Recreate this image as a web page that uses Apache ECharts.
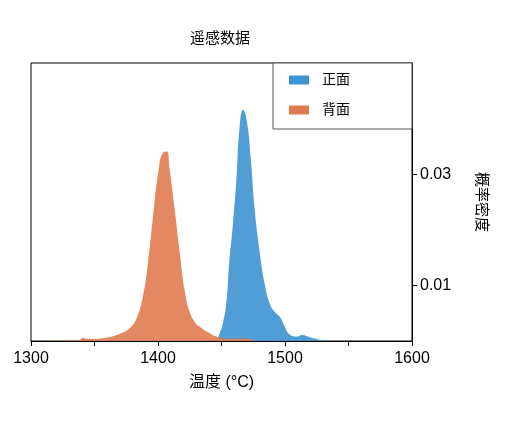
<!DOCTYPE html>
<html>
<head>
<meta charset="utf-8">
<script src="https://cdn.jsdelivr.net/npm/echarts@6/dist/echarts.min.js"></script>
<style>html,body{margin:0;padding:0;background:#fff}#chart{width:512px;height:422px}</style>
</head>
<body>
<div id="chart"></div>
<script>
// 温度 (°C) / 概率密度
const frontTemp = [1446, 1448, 1451, 1454, 1456, 1459, 1462, 1464, 1467, 1470, 1473, 1476, 1480, 1484, 1488, 1492, 1496, 1500, 1503, 1509, 1514, 1518, 1524, 1532]
const frontDens = [0, 0.001, 0.0031, 0.0073, 0.0139, 0.021, 0.030, 0.0378, 0.0416, 0.0395, 0.033, 0.024, 0.0162, 0.0103, 0.0067, 0.0052, 0.0043, 0.0025, 0.0013, 0.0008, 0.0011, 0.0008, 0.0004, 0]
const backTemp = [1300, 1330, 1338, 1341, 1345, 1359, 1370, 1378, 1383, 1388, 1392, 1396, 1400, 1404, 1407, 1409, 1413, 1417, 1421, 1425, 1430, 1434, 1439, 1446, 1456, 1469, 1476, 1481]
const backDens = [0, 0.0001, 0.0002, 0.00054, 0.00036, 0.0006, 0.0013, 0.0024, 0.004, 0.0079, 0.0139, 0.0222, 0.030, 0.0339, 0.0341, 0.0312, 0.024, 0.0162, 0.0091, 0.0052, 0.0031, 0.0024, 0.0016, 0.0008, 0.0004, 0.0004, 0.0001, 0]
const frontPeak = [1468, 0.0416]
const backPeak = [1407, 0.0341]

const zip = (xs, ys) => xs.map((x, i) => [x, ys[i]])
const font = '"Liberation Sans", "Noto Sans CJK SC", sans-serif'

const peakLabel = (pt, dx) => ({
    symbol: 'circle', symbolSize: 1, itemStyle: { opacity: 0 },
    label: { show: true, position: 'top', distance: 4, offset: [dx, 0], color: '#000', fontSize: 16, fontFamily: font, formatter: pt[0] + ' °C' },
    data: [{ coord: pt, value: pt[0] }]
})

const myChart = echarts.init(document.getElementById('chart'))
const option = {
    animation: false,
    title: {
        text: '遥感数据', left: 215, top: 26, textAlign: 'center',
        textStyle: { fontSize: 15, fontWeight: 'normal', color: '#000', fontFamily: font }
    },
    grid: { left: 31, right: 100, top: 63, bottom: 81, show: true, borderColor: '#000', borderWidth: 1 },
    legend: {
        right: 100, top: 63, orient: 'vertical', itemWidth: 20, itemHeight: 9, itemGap: 16,
        padding: [10, 62, 12, 16], borderColor: '#555', borderWidth: 1, backgroundColor: '#fff',
        textStyle: { fontSize: 14, fontFamily: font, color: '#000', padding: [0, 0, 0, 8] },
        data: [{ name: '正面', icon: 'rect' }, { name: '背面', icon: 'rect' }]
    },
    xAxis: {
        type: 'value', min: 1300, max: 1600, interval: 50,
        name: '温度 (°C)', nameLocation: 'middle', nameGap: 34,
        nameTextStyle: { fontSize: 16, color: '#000', fontFamily: font },
        axisLine: { lineStyle: { color: '#000' } },
        axisTick: { show: true, length: 5, lineStyle: { color: '#000' } },
        axisLabel: { fontSize: 16, color: '#000', fontFamily: font, margin: 10, formatter: v => (v % 100 === 0 ? String(v) : '') },
        splitLine: { show: false }
    },
    yAxis: {
        type: 'value', min: 0, max: 0.05, interval: 0.01, position: 'right',
        name: '概率密度', nameLocation: 'middle', nameGap: 62, nameRotate: -90,
        nameTextStyle: { fontSize: 15, color: '#000', fontFamily: font },
        axisLine: { show: true, lineStyle: { color: '#000' } },
        axisTick: { show: true, length: 5, customValues: [0.01, 0.03], lineStyle: { color: '#000' } },
        axisLabel: { fontSize: 16, color: '#000', fontFamily: font, margin: 8, customValues: [0.01, 0.03], formatter: v => v.toFixed(2) },
        splitLine: { show: false }
    },
    series: [
        {
            name: '正面', type: 'line', smooth: true, symbol: 'none', color: '#3d94d0',
            lineStyle: { width: 0 }, areaStyle: { color: '#3d94d0', opacity: 0.9 },
            data: zip(frontTemp, frontDens), markPoint: peakLabel(frontPeak, -13), z: 2
        },
        {
            name: '背面', type: 'line', smooth: true, symbol: 'none', color: '#e07b4f',
            lineStyle: { width: 0 }, areaStyle: { color: '#e07b4f', opacity: 0.9 },
            data: zip(backTemp, backDens), markPoint: peakLabel(backPeak, -14), z: 3
        }
    ]
}
myChart.setOption(option)
</script>
</body>
</html>
